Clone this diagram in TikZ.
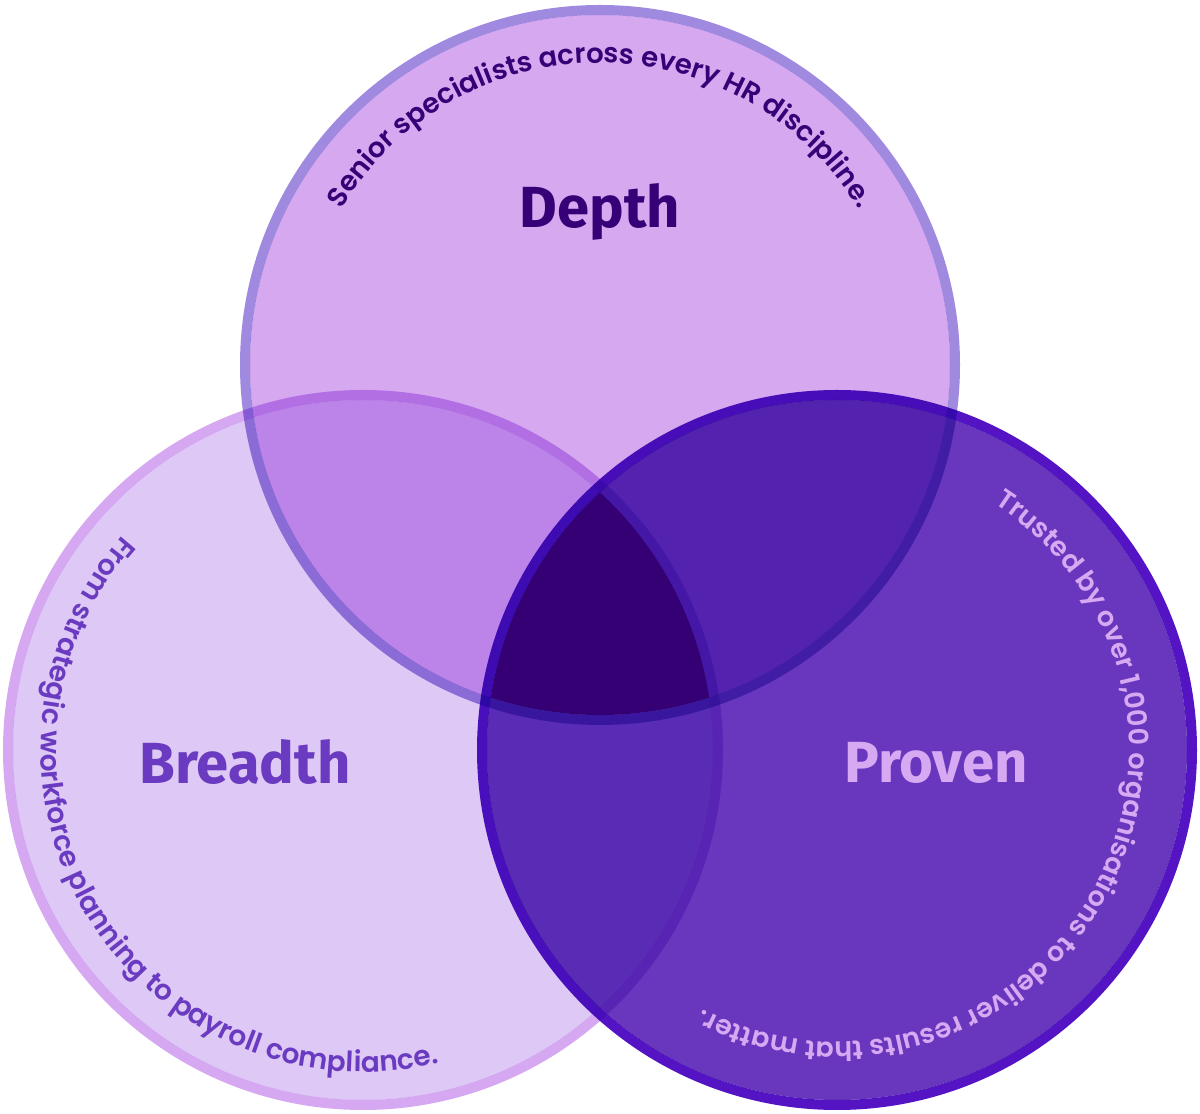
\documentclass[tikz,border=0pt]{standalone}
\usepackage{fontspec}
\setmainfont{Poppins}
\IfFontExistsTF{Poppins SemiBold}
  {\newfontfamily\arcfont{Poppins SemiBold}}
  {\newfontfamily\arcfont{Poppins}[UprightFont=*-Bold]}
\newfontfamily\titlefont{Fira Sans}
\usetikzlibrary{decorations.text}

\definecolor{depthfill}{HTML}{D5A8F0}
\definecolor{breadthfill}{HTML}{DEC8F5}
\definecolor{provenfill}{HTML}{6937BD}
\definecolor{depthbreadth}{HTML}{BC84E8}
\definecolor{depthproven}{HTML}{5323B0}
\definecolor{breadthproven}{HTML}{5A2BB5}
\definecolor{allthree}{HTML}{350073}
\definecolor{depthrim}{HTML}{A08AE0}
\definecolor{breadthrim}{HTML}{D6A8F2}
\definecolor{provenrim}{HTML}{5514C4}
\definecolor{darkink}{HTML}{360076}
\definecolor{midink}{HTML}{6A3BC0}
\definecolor{lightink}{HTML}{D7A9F2}

\begin{document}
\begin{tikzpicture}[x=1pt, y=1pt,
    rim/.style={line width=10pt, blend mode=multiply},
    title/.style={font=\titlefont\bfseries\fontsize{58}{58}\selectfont, inner sep=0pt},
    arctext/.style={decorate, decoration={text along path, text align=center,
        text color=#1}}]
  \useasboundingbox (0,0) rectangle (1200,1114);
  \coordinate (dc) at (600,749);
  \coordinate (bc) at (363,364);
  \coordinate (pc) at (837,364);
  % plain discs
  \fill[depthfill] (dc) circle (350);
  \fill[breadthfill] (bc) circle (350);
  \fill[provenfill] (pc) circle (350);
  % overlaps
  \begin{scope}
    \clip (bc) circle (350);
    \fill[breadthproven] (pc) circle (350);
  \end{scope}
  \begin{scope}
    \clip (dc) circle (350);
    \fill[depthbreadth] (bc) circle (350);
    \fill[depthproven] (pc) circle (350);
    \clip (bc) circle (350);
    \fill[allthree] (pc) circle (350);
  \end{scope}
  % rims
  \draw[rim, depthrim] (dc) circle (355);
  \draw[rim, breadthrim] (bc) circle (355);
  \draw[rim, provenrim] (pc) circle (355);
  % titles
  \node[title, text=darkink] (depth) at (600,902) {Depth};
  \node[title, text=midink] (breadth) at (245,352) {Breadth};
  \node[title, text=lightink] (proven) at (936,351) {Proven};
  % curved captions
  \path[arctext=darkink, decoration={text={|\arcfont\fontsize{27.5}{27.5}\selectfont|Senior specialists across every HR discipline.}}]
    (dc) ++(170:302) arc[start angle=170, end angle=10, radius=302];
  \path[arctext=midink, decoration={text={|\arcfont\fontsize{28}{28}\selectfont|From strategic workforce planning to payroll compliance.}}]
    (bc) ++(131:322) arc[start angle=131, end angle=291, radius=322];
  \path[arctext=lightink, decoration={text={|\arcfont\fontsize{27}{27}\selectfont|Trusted by over 1,000 organisations to deliver results that matter.}}]
    (pc) ++(80:292) arc[start angle=80, end angle=-140, radius=292];
\end{tikzpicture}
\end{document}
